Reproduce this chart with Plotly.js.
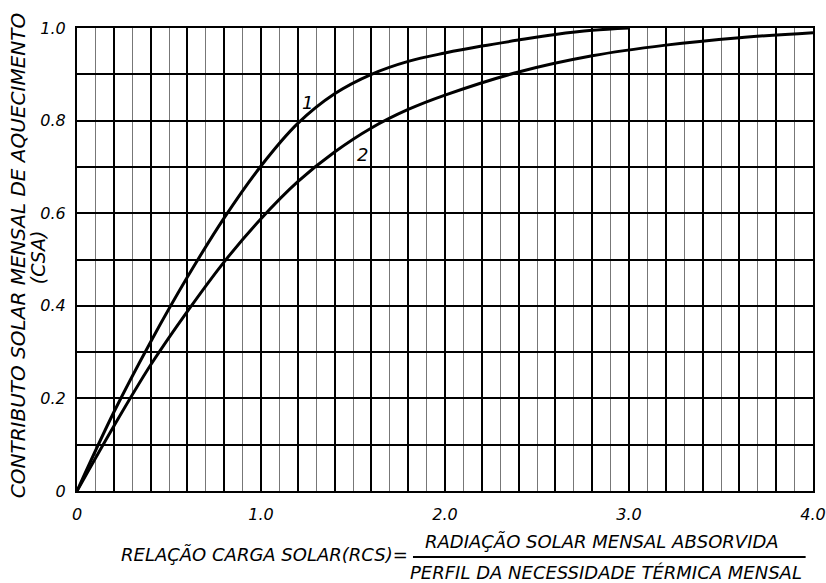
<!DOCTYPE html>
<html>
<head>
<meta charset="utf-8">
<script src="https://cdn.plot.ly/plotly-3.0.1.min.js"></script>
<style>html,body{margin:0;padding:0;background:#fff;}#chart{width:826px;height:583px;}</style>
</head>
<body>
<div id="chart"></div>
<script>
// Curve 1
const x1 = [0, 0.2, 0.4, 0.6, 0.8, 1.0, 1.2, 1.4, 1.6, 1.8, 2.0, 2.2, 2.4, 2.6, 2.8, 3.0];
const y1 = [0, 0.17, 0.322, 0.462, 0.59, 0.702, 0.794, 0.858, 0.9, 0.928, 0.946, 0.961, 0.974, 0.986, 0.995, 1.0];
// Curve 2
const x2 = [0, 0.2, 0.4, 0.6, 0.8, 1.0, 1.2, 1.4, 1.6, 1.8, 2.0, 2.4, 2.8, 3.2, 3.6, 4.0];
const y2 = [0, 0.14, 0.272, 0.388, 0.495, 0.588, 0.668, 0.732, 0.784, 0.824, 0.855, 0.905, 0.94, 0.963, 0.979, 0.99];

const curveLabels = ["1", "2"];
const curveLabelX = [1.255, 1.55];
const curveLabelY = [0.84, 0.726];

const xTickVals = [0, 0.2, 0.4, 0.6, 0.8, 1.0, 1.2, 1.4, 1.6, 1.8, 2.0, 2.2, 2.4, 2.6, 2.8, 3.0, 3.2, 3.4, 3.6, 3.8, 4.0];
const xTickText = ["0", "", "", "", "", "1.0", "", "", "", "", "2.0", "", "", "", "", "3.0", "", "", "", "", "4.0"];
const yTickVals = [0, 0.1, 0.2, 0.3, 0.4, 0.5, 0.6, 0.7, 0.8, 0.9, 1.0];
const yTickText = ["0", "", "0.2", "", "0.4", "", "0.6", "", "0.8", "", "1.0"];

const yTitle1 = "CONTRIBUTO SOLAR MENSAL DE AQUECIMENTO";
const yTitle2 = "(CSA)";
const xTitleLeft = "RELAÇÃO CARGA SOLAR(RCS)=";
const xTitleNum = "RADIAÇÃO SOLAR MENSAL ABSORVIDA";
const xTitleDen = "PERFIL DA NECESSIDADE TÉRMICA MENSAL";

const FONT = "DejaVu Sans";
const INK = "#000";

const traces = [
  {x: x1, y: y1, mode: "lines", line: {color: INK, width: 3, shape: "spline", smoothing: 1}, hoverinfo: "skip", showlegend: false},
  {x: x2, y: y2, mode: "lines", line: {color: INK, width: 3, shape: "spline", smoothing: 1}, hoverinfo: "skip", showlegend: false}
];

const annotations = [];
for (let i = 0; i < curveLabels.length; i++) {
  annotations.push({x: curveLabelX[i], y: curveLabelY[i], xref: "x", yref: "y", text: curveLabels[i], showarrow: false,
    font: {family: FONT, size: 18, color: INK, style: "italic"}});
}
annotations.push({xref: "paper", yref: "paper", x: -0.081, y: 0.508, xanchor: "center", yanchor: "middle", textangle: -90,
  text: yTitle1, showarrow: false, font: {family: FONT, size: 20, color: INK, style: "italic"}});
annotations.push({xref: "paper", yref: "paper", x: -0.053, y: 0.505, xanchor: "center", yanchor: "middle", textangle: -90,
  text: yTitle2, showarrow: false, font: {family: FONT, size: 19, color: INK, style: "italic"}});
annotations.push({xref: "paper", yref: "paper", x: 0.4525, y: -0.138, xanchor: "right", yanchor: "middle",
  text: xTitleLeft, showarrow: false, font: {family: FONT, size: 18, color: INK, style: "italic"}});
annotations.push({xref: "paper", yref: "paper", x: 0.713, y: -0.108, xanchor: "center", yanchor: "middle",
  text: xTitleNum, showarrow: false, font: {family: FONT, size: 18, color: INK, style: "italic"}});
annotations.push({xref: "paper", yref: "paper", x: 0.719, y: -0.177, xanchor: "center", yanchor: "middle",
  text: xTitleDen, showarrow: false, font: {family: FONT, size: 18, color: INK, style: "italic"}});

const layout = {
  width: 826, height: 583,
  margin: {l: 77, r: 13, t: 28, b: 92},
  paper_bgcolor: "#fff", plot_bgcolor: "#fff",
  font: {family: FONT, color: INK},
  xaxis: {
    range: [0, 4.0], tickmode: "array", tickvals: xTickVals, ticktext: xTickText,
    showgrid: true, gridcolor: INK, gridwidth: 2,
    showline: true, linecolor: INK, linewidth: 2, mirror: true,
    zeroline: false, ticks: "", ticklabelstandoff: 8,
    tickfont: {family: FONT, size: 16, color: INK, style: "italic"},
    minor: {dtick: 0.1, showgrid: true, gridcolor: "#777", gridwidth: 1}
  },
  yaxis: {
    range: [0, 1.0], tickmode: "array", tickvals: yTickVals, ticktext: yTickText,
    showgrid: true, gridcolor: INK, gridwidth: 2,
    showline: true, linecolor: INK, linewidth: 2, mirror: true,
    zeroline: false, ticks: "", ticklabelstandoff: 6,
    tickfont: {family: FONT, size: 16, color: INK, style: "italic"}
  },
  shapes: [
    {type: "line", xref: "paper", yref: "paper", x0: 0.4565, x1: 0.99, y0: -0.1425, y1: -0.1425, line: {color: INK, width: 2}}
  ],
  annotations: annotations
};

Plotly.newPlot("chart", traces, layout, {staticPlot: true, displayModeBar: false});
</script>
</body>
</html>
